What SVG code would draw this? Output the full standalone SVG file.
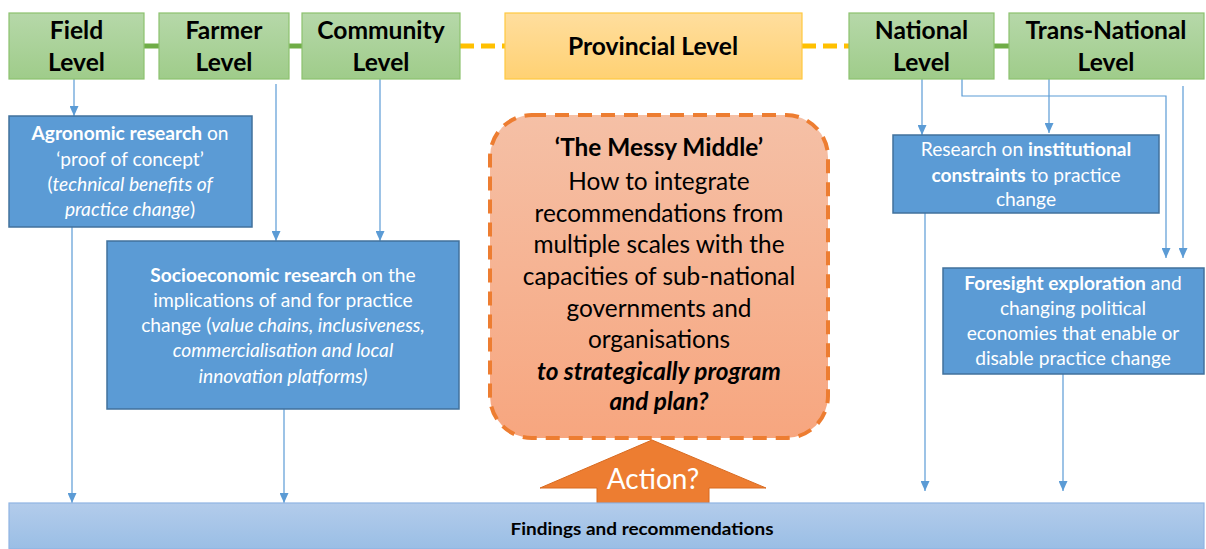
<svg xmlns="http://www.w3.org/2000/svg" width="1206" height="549" viewBox="0 0 1206 549">
<defs>
<linearGradient id="gG" x1="0" y1="0" x2="0" y2="1"><stop offset="0" stop-color="#B6D8A9"/><stop offset="1" stop-color="#9FCC8A"/></linearGradient>
<linearGradient id="gY" x1="0" y1="0" x2="0" y2="1"><stop offset="0" stop-color="#FFDE9E"/><stop offset="1" stop-color="#FFD173"/></linearGradient>
<linearGradient id="gO" x1="0" y1="0" x2="0" y2="1"><stop offset="0" stop-color="#F5C0A6"/><stop offset="1" stop-color="#F7A67F"/></linearGradient>
<linearGradient id="gB" x1="0" y1="0" x2="0" y2="1"><stop offset="0" stop-color="#B3CCEB"/><stop offset="1" stop-color="#9ABEE5"/></linearGradient>
<marker id="ah" viewBox="0 0 10 10" refX="10" refY="5" markerWidth="10" markerHeight="9" markerUnits="userSpaceOnUse" orient="auto" preserveAspectRatio="none">
<path d="M0,0 L10,5 L0,10 Z" fill="#5B9BD5"/>
</marker>
</defs>
<style>
.lvl{fill:url(#gG);stroke:#8CC26E;stroke-width:1.2}
.prov{fill:url(#gY);stroke:#FFC940;stroke-width:1.2}
.blue{fill:#5B9BD5;stroke:#41719C;stroke-width:1.5}
.t{font-family:Lato,"Open Sans",sans-serif;text-anchor:middle}
.hd{font-size:24.6px;font-weight:bold;fill:#000}
.bt{font-size:19.2px;fill:#fff}
.mm{font-size:24.4px;fill:#000}
.b{font-weight:bold}
.i{font-style:italic}
.ln{fill:none;stroke:#5B9BD5;stroke-width:1.2}
.ar{marker-end:url(#ah)}
.gl{stroke:#70AD47;stroke-width:5}
.yl{stroke:#FFC000;stroke-width:5;stroke-dasharray:14 7}
</style>
<g id="connectors">
<line class="gl" x1="144" y1="46" x2="159" y2="46"/>
<line class="gl" x1="289" y1="46" x2="302" y2="46"/>
<line class="yl" x1="460" y1="46" x2="505" y2="46"/>
<line class="yl" x1="802" y1="46" x2="849" y2="46"/>
<line class="gl" x1="994" y1="46" x2="1009" y2="46"/>
<path class="ln ar" d="M74,79 V116"/>
<path class="ln ar" d="M276,84 V241"/>
<path class="ln ar" d="M380,79 V241"/>
<path class="ln ar" d="M72,227 V503"/>
<path class="ln ar" d="M284,409 V503"/>
<path class="ln ar" d="M922,79 V135"/>
<path class="ln ar" d="M1049,79 V133"/>
<path class="ln ar" d="M962,79 V96 H1166 V258"/>
<path class="ln ar" d="M1183,86 V258"/>
<path class="ln ar" d="M925,213 V491"/>
<path class="ln ar" d="M1063,374 V491"/>
</g>
<g id="field"><rect class="lvl" x="9" y="13" width="135" height="66"/><text class="t hd" x="76.5" y="39">Field</text><text class="t hd" x="76.5" y="71">Level</text></g>
<g id="farmer"><rect class="lvl" x="159" y="13" width="130" height="66"/><text class="t hd" x="224" y="39">Farmer</text><text class="t hd" x="224" y="71">Level</text></g>
<g id="community"><rect class="lvl" x="302" y="13" width="158" height="66"/><text class="t hd" x="381" y="39">Community</text><text class="t hd" x="381" y="71">Level</text></g>
<g id="provincial"><rect class="prov" x="505" y="13" width="297" height="66"/><text class="t hd" x="653" y="55">Provincial Level</text></g>
<g id="national"><rect class="lvl" x="849" y="13" width="145" height="66"/><text class="t hd" x="921.5" y="39">National</text><text class="t hd" x="921.5" y="71">Level</text></g>
<g id="transnational"><rect class="lvl" x="1009" y="13" width="195" height="66"/><text class="t hd" x="1106" y="39">Trans-National</text><text class="t hd" x="1106" y="71">Level</text></g>
<g id="agronomic"><rect class="blue" x="9" y="116" width="243" height="111"/>
<text class="t bt" x="130" y="140"><tspan class="b">Agronomic research</tspan> on</text>
<text class="t bt" x="130" y="166">‘proof of concept’</text>
<text class="t bt" x="130" y="191">(<tspan class="i">technical benefits of</tspan></text>
<text class="t bt" x="130" y="216"><tspan class="i">practice change</tspan>)</text>
</g>
<g id="socioeconomic"><rect class="blue" x="107" y="241" width="352" height="168"/>
<text class="t bt" x="283" y="282"><tspan class="b">Socioeconomic research</tspan> on the</text>
<text class="t bt" x="283" y="307">implications of and for practice</text>
<text class="t bt" x="283" y="332">change (<tspan class="i">value chains, inclusiveness,</tspan></text>
<text class="t bt i" x="283" y="357">commercialisation and local</text>
<text class="t bt i" x="283" y="383">innovation platforms)</text>
</g>
<g id="institutional"><rect class="blue" x="893" y="135" width="266" height="78"/>
<text class="t bt" x="1026" y="156">Research on <tspan class="b">institutional</tspan></text>
<text class="t bt" x="1026" y="182"><tspan class="b">constraints</tspan> to practice</text>
<text class="t bt" x="1026" y="206">change</text>
</g>
<g id="foresight"><rect class="blue" x="943" y="268" width="261" height="106"/>
<text class="t bt" x="1073" y="290"><tspan class="b">Foresight exploration</tspan> and</text>
<text class="t bt" x="1073" y="315">changing political</text>
<text class="t bt" x="1073" y="340">economies that enable or</text>
<text class="t bt" x="1073" y="365">disable practice change</text>
</g>
<g id="messy-middle"><rect x="490" y="115" width="338" height="323" rx="42" ry="42" fill="url(#gO)" stroke="#ED7D31" stroke-width="4" stroke-dasharray="14 9"/>
<text class="t mm b" x="659" y="156">‘The Messy Middle’</text>
<text class="t mm" x="659" y="190">How to integrate</text>
<text class="t mm" x="659" y="222">recommendations from</text>
<text class="t mm" x="659" y="253">multiple scales with the</text>
<text class="t mm" x="659" y="285">capacities of sub-national</text>
<text class="t mm" x="659" y="317">governments and</text>
<text class="t mm" x="659" y="348">organisations</text>
<text class="t mm b i" x="659" y="380">to strategically program</text>
<text class="t mm b i" x="659" y="410">and plan?</text>
</g>
<g id="action"><path d="M652,440 L766,488 L709,488 L709,503 L597,503 L597,488 L540,488 Z" fill="#ED7D31" stroke="#D86A20" stroke-width="1"/>
<text class="t" x="653" y="489" font-size="28" fill="#fff">Action?</text>
</g>
<g id="findings"><rect x="9" y="503" width="1195" height="46" fill="url(#gB)" stroke="#8FB4E3" stroke-width="1.2"/>
<text class="t b" x="642" y="535" font-size="17" fill="#000" textLength="263" lengthAdjust="spacingAndGlyphs">Findings and recommendations</text>
</g>
</svg>
